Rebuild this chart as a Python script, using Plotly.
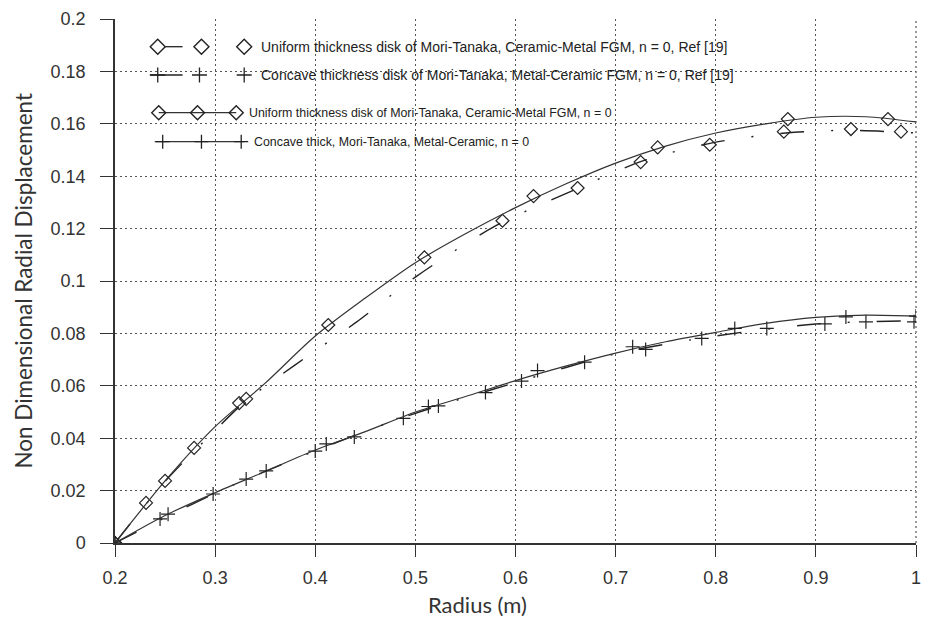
import plotly.graph_objects as go

# ---------------- data ----------------
# Uniform thickness disk, Mori-Tanaka, Ceramic-Metal FGM, n = 0 (present, solid line)
uni_line_r = [0.2, 0.25, 0.3, 0.35, 0.4, 0.45, 0.5, 0.55, 0.6, 0.65, 0.7, 0.75, 0.8, 0.85, 0.9, 0.95, 1.0]
uni_line_u = [0.0, 0.0237, 0.0444, 0.061, 0.079, 0.0935, 0.107, 0.118, 0.128, 0.137, 0.145, 0.1515, 0.1565, 0.160, 0.1625, 0.1627, 0.1607]
uni_mark_r = [0.2, 0.25, 0.324, 0.413, 0.509, 0.618, 0.742, 0.872, 0.972]
uni_mark_u = [0.0, 0.0237, 0.0534, 0.0832, 0.109, 0.1324, 0.151, 0.1618, 0.1618]

# Uniform thickness disk, Ref [19] (dash-dot line)
uni_ref_line_r = [0.2, 0.25, 0.3, 0.33, 0.38, 0.44, 0.5, 0.58, 0.66, 0.73, 0.8, 0.87, 0.93, 1.0]
uni_ref_line_u = [0.0, 0.0235, 0.043, 0.054, 0.068, 0.084, 0.1015, 0.121, 0.135, 0.1462, 0.153, 0.1565, 0.1575, 0.1565]
uni_ref_mark_r = [0.2, 0.231, 0.279, 0.331, 0.587, 0.662, 0.725, 0.794, 0.868, 0.935, 0.985]
uni_ref_mark_u = [0.0, 0.0153, 0.0363, 0.055, 0.123, 0.1355, 0.1454, 0.152, 0.157, 0.158, 0.157]

# Concave thickness disk, Mori-Tanaka, Metal-Ceramic, n = 0 (present, solid line)
con_line_r = [0.2, 0.25, 0.3, 0.35, 0.4, 0.45, 0.5, 0.55, 0.6, 0.65, 0.7, 0.75, 0.8, 0.85, 0.9, 0.95, 1.0]
con_line_u = [0.0, 0.0105, 0.0192, 0.0273, 0.0355, 0.0425, 0.050, 0.0559, 0.062, 0.0675, 0.0725, 0.0768, 0.0804, 0.0838, 0.0861, 0.087, 0.0866]
con_mark_r = [0.2, 0.245, 0.298, 0.351, 0.411, 0.513, 0.622, 0.717, 0.819, 0.930, 1.0]
con_mark_u = [0.0, 0.0092, 0.0187, 0.0275, 0.0378, 0.0521, 0.0658, 0.0749, 0.0819, 0.0863, 0.0866]

# Concave thickness disk, Ref [19] (dash-dot line)
con_ref_line_r = [0.2, 0.3, 0.4, 0.5, 0.6, 0.7, 0.8, 0.9, 1.0]
con_ref_line_u = [0.0, 0.019, 0.0352, 0.0495, 0.0612, 0.0722, 0.079, 0.0836, 0.0848]
con_ref_mark_r = [0.2, 0.253, 0.331, 0.400, 0.439, 0.488, 0.523, 0.570, 0.606, 0.669, 0.730, 0.786, 0.851, 0.909, 0.950, 0.998]
con_ref_mark_u = [0.0, 0.011, 0.0244, 0.0351, 0.0405, 0.0476, 0.0523, 0.0574, 0.0618, 0.069, 0.0739, 0.0781, 0.0819, 0.0836, 0.0844, 0.0844]

x_tick_vals = [0.2, 0.3, 0.4, 0.5, 0.6, 0.7, 0.8, 0.9, 1.0]
x_tick_text = ["0.2", "0.3", "0.4", "0.5", "0.6", "0.7", "0.8", "0.9", "1"]
y_tick_vals = [0, 0.02, 0.04, 0.06, 0.08, 0.1, 0.12, 0.14, 0.16, 0.18, 0.2]
y_tick_text = ["0", "0.02", "0.04", "0.06", "0.08", "0.1", "0.12", "0.14", "0.16", "0.18", "0.2"]

legend_labels = [
    "Uniform thickness disk of Mori-Tanaka, Ceramic-Metal FGM, n = 0, Ref [19]",
    "Concave thickness disk of Mori-Tanaka, Metal-Ceramic FGM, n = 0, Ref [19]",
    "Uniform thickness disk of Mori-Tanaka, Ceramic-Metal FGM, n = 0",
    "Concave thick, Mori-Tanaka, Metal-Ceramic, n = 0",
]

# ---------------- layout geometry ----------------
W, H = 926, 618
ML, MR, MT, MB = 115, 5, 19, 75
PW = W - ML - MR
PH = H - MT - MB


def pxx(x):
    return (x - ML) / PW


def pxy(y):
    return (H - MB - y) / PH


DASHDOT = "24px,27px,2px,27px"
GRIDDASH = "2px,3px"
GRIDCOLOR = "#555555"
INK = "#222222"
SOLID = "#333333"

fig = go.Figure()


def add_series(lr, lu, mr, mu, dash, symbol, lcolor, lwidth, msize):
    fig.add_trace(go.Scatter(x=lr, y=lu, mode="lines", showlegend=False, hoverinfo="skip",
                             line=dict(color=lcolor, width=lwidth, dash=dash, shape="spline", smoothing=0.8)))
    fig.add_trace(go.Scatter(x=mr, y=mu, mode="markers", showlegend=False,
                             marker=dict(symbol=symbol, size=msize, color=INK,
                                         line=dict(color=INK, width=1.2))))


add_series(uni_ref_line_r, uni_ref_line_u, uni_ref_mark_r, uni_ref_mark_u, DASHDOT, "diamond-open", INK, 1.4, 10)
add_series(con_ref_line_r, con_ref_line_u, con_ref_mark_r, con_ref_mark_u, DASHDOT, "cross-thin-open", INK, 1.4, 10)
add_series(uni_line_r, uni_line_u, uni_mark_r, uni_mark_u, "solid", "diamond-open", SOLID, 1.2, 10)
add_series(con_line_r, con_line_u, con_mark_r, con_mark_u, "solid", "cross-thin-open", SOLID, 1.2, 10)

# ---------------- custom legend (shapes + annotations) ----------------
shapes = []
annotations = []

# dotted frame line on the right edge (grid line at r = 1)
shapes.append(dict(type="line", xref="paper", yref="paper", x0=1, x1=1, y0=0, y1=1, layer="below",
                   line=dict(color=GRIDCOLOR, width=1.2, dash=GRIDDASH)))


def diamond(x, y, h):
    shapes.append(dict(type="path", xref="paper", yref="paper", xsizemode="pixel", ysizemode="pixel",
                       xanchor=pxx(x), yanchor=pxy(y),
                       path=f"M {-h} 0 L 0 {h} L {h} 0 L 0 {-h} Z",
                       line=dict(color=INK, width=1.4), fillcolor="rgba(0,0,0,0)"))


def cross(x, y, h):
    shapes.append(dict(type="path", xref="paper", yref="paper", xsizemode="pixel", ysizemode="pixel",
                       xanchor=pxx(x), yanchor=pxy(y),
                       path=f"M {-h} 0 L {h} 0 M 0 {-h} L 0 {h}",
                       line=dict(color=INK, width=1.3)))


def seg(x0, x1, y, color=INK, width=1.3):
    shapes.append(dict(type="line", xref="paper", yref="paper",
                       x0=pxx(x0), x1=pxx(x1), y0=pxy(y), y1=pxy(y),
                       line=dict(color=color, width=width)))


def label(x, y, text, size):
    annotations.append(dict(xref="paper", yref="paper", x=pxx(x), y=pxy(y), text=text,
                            showarrow=False, xanchor="left", yanchor="middle",
                            font=dict(family="Liberation Sans, Arial, sans-serif", size=size, color=INK)))


# entry 1
seg(165, 183, 46.7)
for cx in (158, 202, 245):
    diamond(cx, 46.7, 7.5)
label(260, 46.7, legend_labels[0], 14)
# entry 2
seg(150, 183, 75)
for cx in (158, 200, 245):
    cross(cx, 75, 7.5)
label(260, 75, legend_labels[1], 14)
# entry 3
seg(159, 237, 112.7, SOLID)
for cx in (159, 198, 237):
    diamond(cx, 112.7, 7)
label(248, 112.7, legend_labels[2], 12.4)
# entry 4
seg(155, 245, 141.7, SOLID)
for cx in (163, 202, 242):
    cross(cx, 141.7, 7)
label(253, 141.7, legend_labels[3], 12.4)

# axis titles
annotations.append(dict(xref="paper", yref="paper", x=pxx(22), y=pxy(281), text="Non Dimensional Radial Displacement",
                        textangle=-90, showarrow=False, xanchor="center", yanchor="middle",
                        font=dict(family="Lato, sans-serif", size=22.5, color="#333333")))
annotations.append(dict(xref="paper", yref="paper", x=pxx(480), y=pxy(604), text="Radius (m)",
                        showarrow=False, xanchor="center", yanchor="middle", borderpad=0,
                        font=dict(family="Lato, sans-serif", size=22, color="#333333")))

tickfont = dict(family="Liberation Sans, Arial, sans-serif", size=18, color="#333333")

fig.update_layout(
    width=W, height=H,
    margin=dict(l=ML, r=MR, t=MT, b=MB, pad=0),
    paper_bgcolor="white", plot_bgcolor="white",
    showlegend=False,
    shapes=shapes, annotations=annotations,
    xaxis=dict(range=[0.2, 1.0], tickvals=x_tick_vals, ticktext=x_tick_text,
               showgrid=True, gridcolor=GRIDCOLOR, gridwidth=1.2, griddash=GRIDDASH,
               showline=True, linecolor="#333333", linewidth=1.5, zeroline=False,
               ticks="outside", ticklen=12, tickcolor="#333333", tickwidth=1.2,
               tickfont=tickfont, ticklabelstandoff=6, ticklabeloverflow="allow"),
    yaxis=dict(range=[0, 0.2], tickvals=y_tick_vals, ticktext=y_tick_text,
               showgrid=True, gridcolor=GRIDCOLOR, gridwidth=1.2, griddash=GRIDDASH,
               showline=True, linecolor="#333333", linewidth=1.5, zeroline=False,
               ticks="outside", ticklen=13, tickcolor="#333333", tickwidth=1.2,
               tickfont=tickfont, ticklabelstandoff=11, ticklabeloverflow="allow"),
)

fig.write_html("out.html", config={"displayModeBar": False},
               post_script="document.body.style.margin='0';document.body.style.overflow='hidden';")
